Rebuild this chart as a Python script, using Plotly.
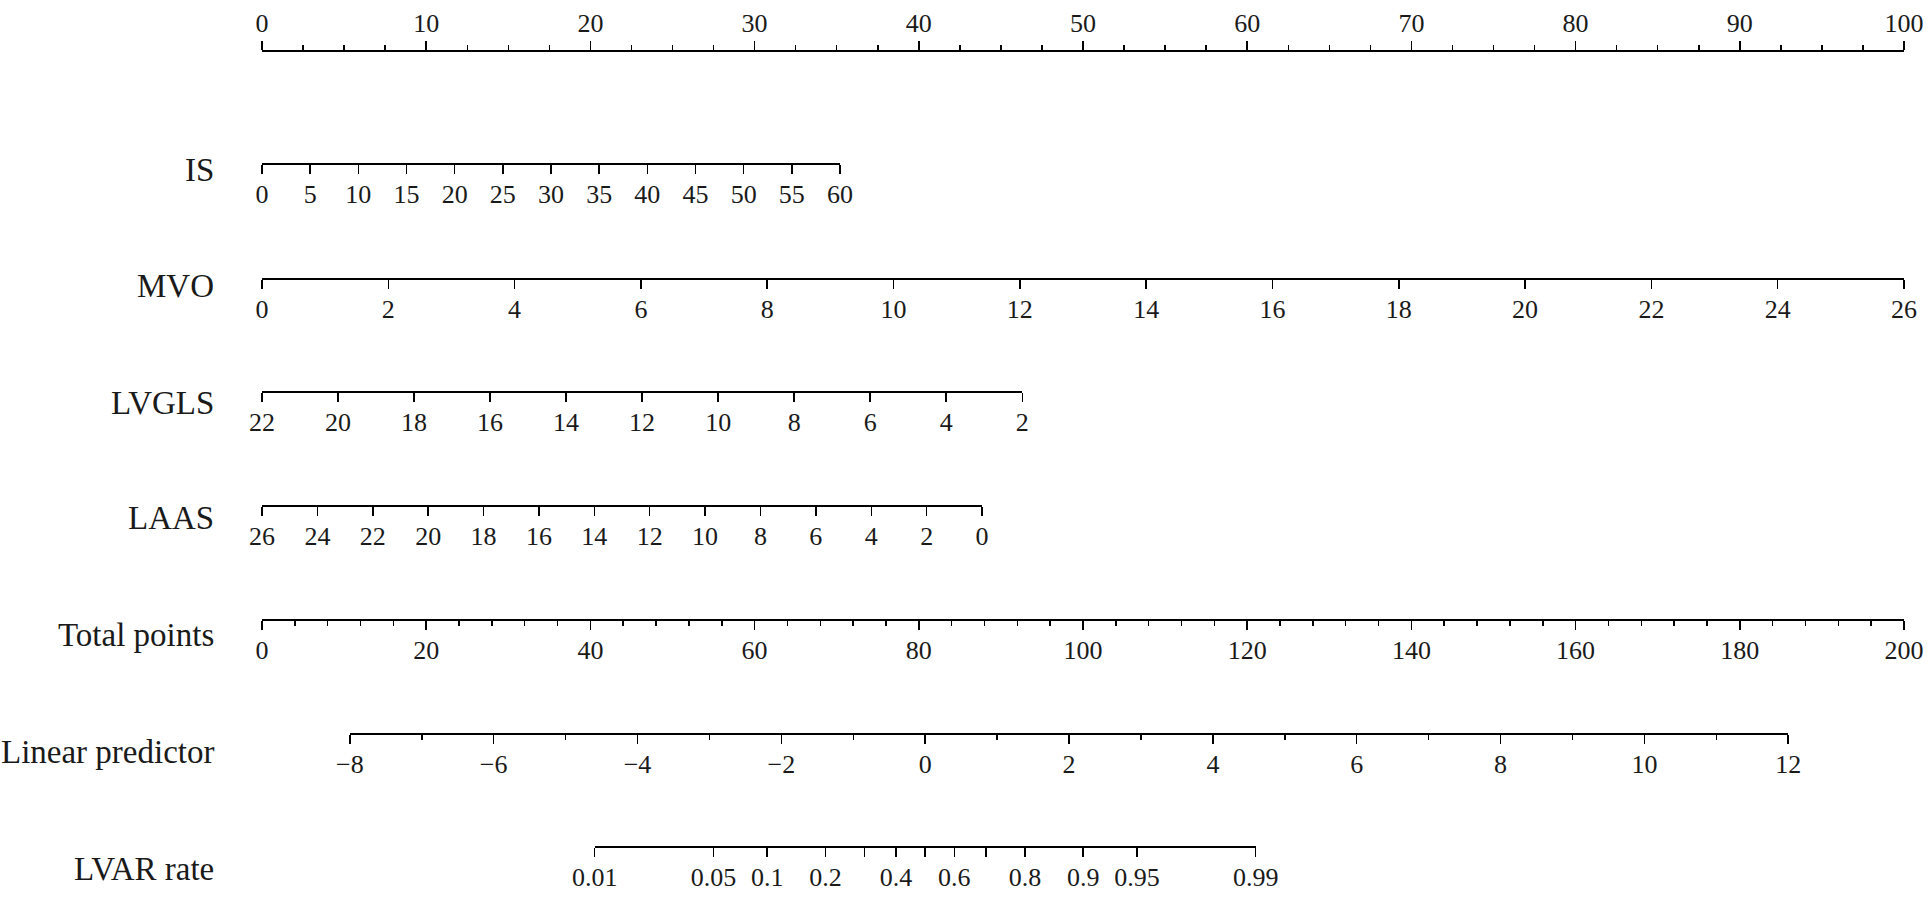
import numpy as np
import plotly.graph_objects as go

# ---------------- data ----------------
points_ticks = list(range(0, 101, 10))          # Points scale 0..100
points_minor = 2.5
is_ticks = list(range(0, 61, 5))                # IS 0..60
mvo_ticks = list(range(0, 27, 2))               # MVO 0..26
lvgls_ticks = list(range(22, 1, -2))            # LVGLS 22..2
laas_ticks = list(range(26, -1, -2))            # LAAS 26..0
total_ticks = list(range(0, 201, 20))           # Total points 0..200
total_minor = 4
lp_ticks = list(range(-8, 13, 2))               # Linear predictor -8..12
lp_minor = 1
lvar_ticks = [0.01, 0.05, 0.1, 0.2, 0.3, 0.4, 0.5, 0.6, 0.7, 0.8, 0.9, 0.95, 0.99]
lvar_labels = ["0.01", "0.05", "0.1", "0.2", "", "0.4", "", "0.6", "", "0.8", "0.9", "0.95", "0.99"]

# points (0..100) reached at the far end of each predictor scale
is_end_points = 35.2       # IS = 60
mvo_end_points = 100.0     # MVO = 26
lvgls_end_points = 46.3    # LVGLS = 2
laas_end_points = 43.85    # LAAS = 0
total_max = 200
lp_total_points = [10.7, 185.9]   # total points at LP = -8 and LP = 12

row_names = ["IS", "MVO", "LVGLS", "LAAS", "Total points", "Linear predictor", "LVAR rate"]

# ---------------- layout helpers ----------------
W, H = 1932, 904
X0_PAGE, X1_PAGE = 262, 1904  # page pixels of points 0 and 100
L = X0_PAGE
R = W - X1_PAGE
PW = W - L - R
FONT = "Liberation Serif, Times New Roman, serif"
TICKFONT = dict(family=FONT, size=26, color="#1a1a1a")


def ypos(page_px):
    return 1 - page_px / H


def xpaper(page_px):
    return (page_px - X0_PAGE) / PW


def logit(p):
    return float(np.log(p / (1 - p)))


lp_dom = [lp_total_points[0] / total_max, lp_total_points[1] / total_max]
lp_lo, lp_hi = lp_ticks[0], lp_ticks[-1]


def lp_to_dom(v):
    return lp_dom[0] + (v - lp_lo) / (lp_hi - lp_lo) * (lp_dom[1] - lp_dom[0])


lvar_vals = [logit(p) for p in lvar_ticks]
lvar_dom = [lp_to_dom(lvar_vals[0]), lp_to_dom(lvar_vals[-1])]

base_axis = dict(
    showgrid=False, zeroline=False, showline=True, linecolor="black", linewidth=2,
    ticks="outside", ticklen=9, tickwidth=1.5, tickcolor="black",
    tickfont=TICKFONT, anchor="free", fixedrange=True, ticklabelstandoff=-2,
)

axes = [
    # key, range, domain, tickvals, ticktext, line y (page px), side, minor
    ("x", [points_ticks[0], points_ticks[-1]], [0, 1], points_ticks, None, 51, "top", points_minor),
    ("x2", [is_ticks[0], is_ticks[-1]], [0, is_end_points / 100], is_ticks, None, 164, "bottom", None),
    ("x3", [mvo_ticks[0], mvo_ticks[-1]], [0, mvo_end_points / 100], mvo_ticks, None, 278.5, "bottom", None),
    ("x4", [lvgls_ticks[0], lvgls_ticks[-1]], [0, lvgls_end_points / 100], lvgls_ticks, None, 392, "bottom", None),
    ("x5", [laas_ticks[0], laas_ticks[-1]], [0, laas_end_points / 100], laas_ticks, None, 506, "bottom", None),
    ("x6", [total_ticks[0], total_ticks[-1]], [0, 1], total_ticks, None, 620, "bottom", total_minor),
    ("x7", [lp_lo, lp_hi], lp_dom, lp_ticks, None, 734, "bottom", lp_minor),
    ("x8", [lvar_vals[0], lvar_vals[-1]], lvar_dom, lvar_vals, lvar_labels, 847, "bottom", None),
]

fig = go.Figure()
layout_axes = {}
for key, rng, dom, tv, tt, ypx, side, minor in axes:
    ax = dict(base_axis)
    ax.update(range=rng, domain=dom, position=ypos(ypx), side=side)
    if minor is not None:
        ax.update(tickmode="linear", tick0=tv[0], dtick=tv[1] - tv[0],
                  minor=dict(ticks="outside", tick0=tv[0], dtick=minor, ticklen=5,
                             tickwidth=1.5, tickcolor="black", showgrid=False))
    else:
        ax.update(tickmode="array", tickvals=tv, ticktext=tt if tt else [str(v) for v in tv])
    if side == "top":
        ax.update(ticklabelstandoff=-1)
    name = "xaxis" if key == "x" else "xaxis" + key[1:]
    layout_axes[name] = ax
    fig.add_trace(go.Scatter(x=[rng[0], rng[1]], y=[0.5, 0.5], xaxis=key, yaxis="y",
                             mode="markers", marker=dict(opacity=0), hoverinfo="skip",
                             showlegend=False))

label_y = [170, 286, 403, 518, 635, 752, 869]
annotations = [
    dict(text=n, x=xpaper(216), y=ypos(yy), xref="paper", yref="paper",
         xanchor="right", yanchor="middle", showarrow=False,
         font=dict(family=FONT, size=33, color="#1a1a1a"))
    for n, yy in zip(row_names, label_y)
]

fig.update_layout(
    width=W, height=H,
    margin=dict(l=L, r=R, t=0, b=0, pad=0),
    paper_bgcolor="white", plot_bgcolor="rgba(0,0,0,0)",
    yaxis=dict(range=[0, 1], visible=False, domain=[0, 1], fixedrange=True),
    annotations=annotations,
    showlegend=False,
    hovermode=False,
)
fig.update_layout(**layout_axes)

fig.write_html(
    "out.html",
    config={"displayModeBar": False, "staticPlot": True},
    post_script="document.body.style.margin='0';document.body.style.overflow='hidden';",
)
